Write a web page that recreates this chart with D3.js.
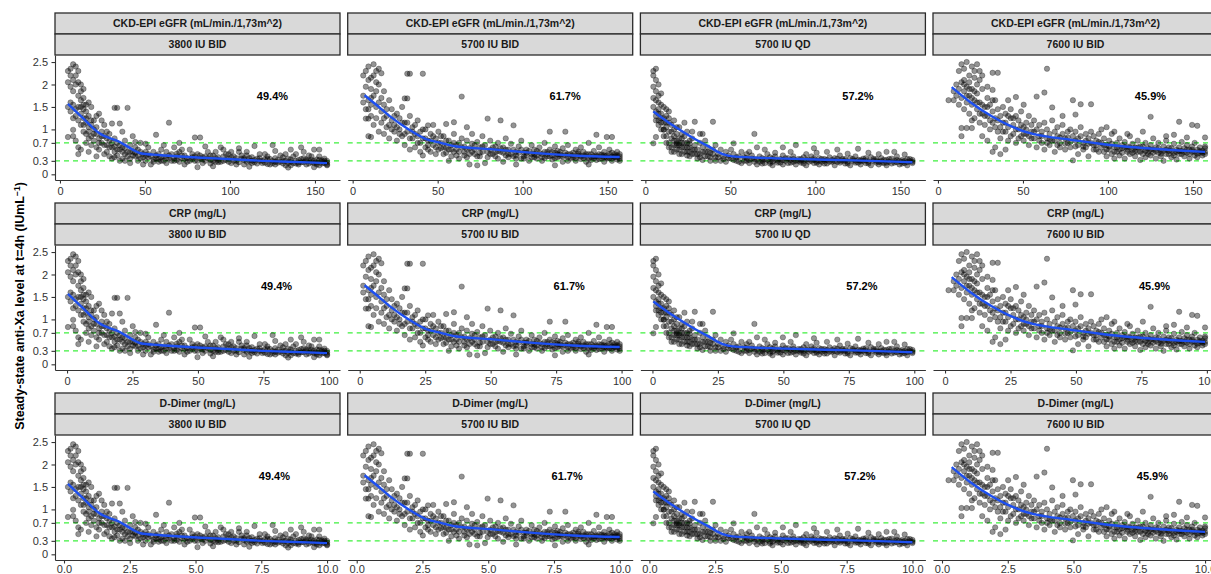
<!DOCTYPE html>
<html><head><meta charset="utf-8">
<script src="https://cdn.jsdelivr.net/npm/d3@7"></script>
<style>
html,body{margin:0;padding:0;background:#fff;overflow:hidden;}
svg{display:block;font-family:"Liberation Sans",Arial,Helvetica,sans-serif;}
</style></head>
<body><div id="chart"></div>
<script>
// ---------------- DATA ----------------
const covariates = ["CKD-EPI eGFR (mL/min./1,73m^2)", "CRP (mg/L)", "D-Dimer (mg/L)"];
// observed covariate range per row (min, max)
const covRanges = [[4.7, 157.1], [0.35, 99.3], [0.15, 10.0]];
const xTickValues = [[0, 50, 100, 150], [0, 25, 50, 75, 100], [0, 2.5, 5, 7.5, 10]];
const xTickFormats = ["d", "d", ".1f"];
const regimens = ["3800 IU BID", "5700 IU BID", "5700 IU QD", "7600 IU BID"];
const pctLabels = ["49.4%", "61.7%", "57.2%", "45.9%"];
const pctLabelX = [125, 80, 8];   // per row, in covariate units
const pctLabelY = 1.75;
const yTicks = [0, 0.3, 0.7, 1, 1.5, 2, 2.5];
const targetLines = [0.3, 0.7];
const yRange = [0, 2.53];

// points: [position in covariate range (%), anti-Xa level]
const pts3800BID = [[0,2.05],[0,2.3],[1,2.2],[1,1.95],[1,2.35],[2,2.1],[2,2.45],[2,1.85],[3,2.0],[3,2.4],[3,2.2],[4,1.75],[4,2.05],[4,2.3],[5,1.85],[5,2.0],[5,1.65],[6,1.7],[6,1.55],[6,1.9],[0,1.5],[1,1.6],[1,1.4],[2,1.55],[2,1.25],[3,1.45],[3,1.3],[4,1.5],[4,1.2],[5,1.35],[5,1.1],[0,0.83],[2,0.85],[2,0.99],[3,0.75],[4,0.6],[4,0.45],[5,0.55],[6,0.95],[6,1.25],[7,1.4],[7,1.15],[7,0.9],[7,0.7],[8,1.05],[8,1.3],[8,0.8],[8,0.5],[9,1.1],[9,0.85],[9,0.65],[10,1.0],[10,0.75],[10,1.2],[11,0.9],[11,0.6],[11,0.4],[12,1.35],[12,0.8],[12,0.55],[13,0.95],[13,0.7],[14,1.1],[14,0.85],[14,0.45],[15,0.65],[15,0.5],[16,0.9],[16,0.75],[17,1.13],[17,0.6],[17,0.35],[18,1.48],[18,0.8],[18,0.5],[19,1.48],[19,0.7],[20,1.13],[20,0.55],[20,0.3],[21,0.95],[21,0.6],[22,0.45],[22,0.75],[23,1.48],[23,0.5],[24,0.65],[24,0.35],[25,0.85],[25,0.5],[26,0.4],[26,0.6],[27,0.55],[28,0.7],[28,0.35],[29,0.45],[30,0.5],[30,0.3],[31,0.6],[32,0.4],[33,0.5],[34,0.88],[34,0.35],[35,0.45],[36,0.55],[36,0.3],[37,0.4],[38,0.5],[39,1.15],[39,0.35],[40,0.45],[41,0.6],[41,0.3],[42,0.4],[43,0.5],[44,0.35],[45,0.42],[46,0.28],[47,0.55],[48,0.38],[49,0.82],[49,0.3],[50,0.45],[51,0.82],[51,0.35],[52,0.25],[53,0.4],[54,0.5],[55,0.32],[56,0.42],[57,0.28],[58,0.38],[59,0.6],[60,0.3],[61,0.45],[62,0.35],[63,0.25],[64,0.4],[65,0.3],[66,0.5],[67,0.35],[68,0.22],[69,0.42],[70,0.3],[71,0.38],[72,0.63],[72,0.27],[73,0.35],[74,0.45],[75,0.25],[76,0.33],[77,0.4],[78,0.22],[79,0.65],[79,0.3],[80,0.36],[81,0.26],[82,0.42],[83,0.3],[84,0.2],[85,0.35],[86,0.28],[87,0.4],[88,0.24],[89,0.32],[90,0.6],[90,0.27],[91,0.36],[92,0.22],[93,0.3],[94,0.4],[95,0.55],[95,0.25],[96,0.33],[97,0.55],[97,0.2],[98,0.28],[99,0.35],[100,0.22],[100,0.3],[32,0.22],[35,0.28],[38,0.25],[42,0.32],[45,0.22],[48,0.45],[52,0.33],[55,0.42],[58,0.27],[62,0.45],[65,0.22],[68,0.32],[71,0.25],[74,0.3],[77,0.23],[80,0.28],[83,0.38],[86,0.2],[89,0.26],[92,0.33],[94,0.27],[96,0.22],[98,0.31],[99,0.25],[44,0.55],[57,0.5],[63,0.5],[69,0.5],[76,0.45],[84,0.45],[88,0.45],[93,0.42],[97,0.4],[24,0.25],[27,0.3],[29,0.22],[31,0.45],[33,0.28],[26,0.72],[30,0.68],[37,0.65],[43,0.7],[53,0.62],[60,0.55],[66,0.58],[80,0.52],[86,0.55],[91,0.5],[50,0.16],[56,0.18],[70,0.17],[85,0.15],[95,0.16],
[31,0.38],[33,0.33],[34,0.42],[36,0.38],[37,0.3],[39,0.42],[40,0.3],[41,0.36],[43,0.28],[44,0.42],[46,0.36],[47,0.3],[49,0.4],[50,0.3],[51,0.42],[53,0.3],[54,0.36],[55,0.24],[57,0.36],[58,0.32],[59,0.28],[61,0.32],[62,0.28],[63,0.38],[64,0.3],[66,0.27],[67,0.42],[68,0.36],[69,0.28],[70,0.36],[72,0.32],[73,0.24],[74,0.36],[75,0.3],[76,0.26],[78,0.34],[79,0.25],[80,0.22],[81,0.32],[82,0.28],[83,0.24],[84,0.3],[85,0.26],[86,0.33],[87,0.25],[88,0.3],[89,0.22],[90,0.34],[91,0.27],[92,0.3],[93,0.24],[94,0.32],[95,0.3],[96,0.26],[97,0.32],[98,0.24],[99,0.3],[100,0.26],[100,0.2],[60,0.4],[65,0.36],[71,0.3],[77,0.34],[45,0.34],[52,0.38],[56,0.3],[48,0.34],[42,0.46],[38,0.36],[35,0.34],
[6,1.1],[7,1.25],[8,0.95],[9,1.2],[10,0.9],[11,1.05],[12,0.7],[13,0.85],[14,0.65],[15,0.8],[16,0.6],[17,0.7],[18,0.62],[19,0.55],[20,0.65],[21,0.5],[22,0.58],[23,0.4],[24,0.5],[25,0.42],[26,0.48],[27,0.42],[28,0.5],[29,0.38],[30,0.42],[15,0.95],[13,1.2],[11,1.3],[9,1.5],[8,1.6],[7,1.55],[6,1.45],[5,1.5],[16,0.4],[18,0.38],[21,0.35],[19,0.42],[22,0.3]];

const pts5700BID = [[1,2.2],[2,2.3],[3,2.4],[4,2.15],[5,2.45],[6,2.3],[7,2.0],[8,2.25],[2,1.95],[4,1.9],[6,2.05],[9,1.85],[3,2.1],[5,2.2],[7,2.35],[18,2.24],[19,2.24],[24,2.24],[17,1.69],[18,1.69],[39,1.73],[2,1.24],[3,1.24],[3,0.85],[4,0.83],[26,1.09],[33,1.12],[36,1.16],[49,1.24],[54,1.2],[41,1.05],[59,1.09],[73,0.95],[79,0.95],[91,0.88],[95,0.83],[97,0.83],[1,1.6],[1,1.75],[2,1.45],[3,1.65],[4,1.55],[4,1.3],[5,1.75],[5,1.1],[6,1.5],[6,1.25],[7,1.6],[7,0.95],[8,1.4],[8,1.15],[9,1.55],[9,0.9],[10,1.3],[10,1.05],[11,1.65],[11,0.8],[12,1.2],[12,1.45],[13,0.95],[13,1.1],[14,1.35],[14,0.75],[15,1.0],[15,1.25],[16,0.85],[16,1.5],[17,0.65],[17,1.15],[18,0.95],[19,0.55],[19,1.3],[20,0.8],[20,1.05],[21,0.6],[21,0.9],[22,1.2],[22,0.7],[23,0.5],[23,0.95],[24,0.8],[25,0.6],[25,1.0],[26,0.75],[27,0.5],[27,0.9],[28,0.65],[28,1.1],[29,0.8],[30,0.55],[30,0.95],[31,0.7],[32,0.45],[32,0.85],[33,0.6],[34,0.75],[35,0.4],[35,0.65],[36,0.9],[37,0.55],[38,0.7],[38,0.35],[39,0.8],[40,0.5],[40,0.62],[41,0.75],[42,0.45],[43,0.68],[43,0.9],[44,0.55],[45,0.4],[45,0.72],[46,0.6],[47,0.5],[47,0.85],[48,0.65],[49,0.38],[50,0.55],[50,0.75],[51,0.45],[52,0.62],[53,0.7],[53,0.35],[54,0.5],[55,0.6],[56,0.42],[56,0.8],[57,0.55],[58,0.68],[59,0.4],[60,0.5],[34,0.3],[42,0.22],[48,0.25],[55,0.28],[61,0.62],[62,0.35],[62,0.75],[63,0.48],[64,0.55],[65,0.3],[66,0.45],[66,0.65],[67,0.38],[68,0.52],[69,0.6],[70,0.3],[70,0.45],[71,0.7],[72,0.4],[73,0.55],[74,0.33],[75,0.48],[75,0.62],[76,0.38],[77,0.5],[78,0.28],[78,0.58],[79,0.42],[80,0.65],[81,0.35],[82,0.48],[83,0.55],[83,0.3],[84,0.42],[85,0.6],[86,0.36],[86,0.5],[87,0.28],[88,0.45],[88,0.7],[89,0.38],[90,0.52],[91,0.32],[92,0.45],[92,0.6],[93,0.35],[94,0.5],[94,0.28],[95,0.42],[96,0.36],[96,0.55],[97,0.3],[98,0.45],[98,0.38],[99,0.33],[99,0.5],[100,0.4],[100,0.3],[58,0.45],[63,0.4],[67,0.45],[71,0.36],[74,0.42],[77,0.4],[80,0.45],[82,0.38],[85,0.4],[87,0.45],[89,0.32],[91,0.42],[93,0.4],[95,0.35],[97,0.4],[99,0.42],[60,0.35],[64,0.42],[68,0.35],[72,0.5],[76,0.45],[80,0.3],[84,0.5],[90,0.4],[94,0.38],[97,0.48],[36,0.5],[39,0.6],[41,0.55],[44,0.65],[46,0.48],[52,0.5],[54,0.58],[57,0.45],[29,0.45],[31,0.58],[26,0.55],[24,0.42],[33,0.48],[37,0.42],[41,0.38],[45,0.2],[60,0.22],[75,0.2],[88,0.22],
[35,0.55],[37,0.65],[38,0.5],[40,0.42],[42,0.58],[43,0.5],[44,0.45],[46,0.4],[47,0.62],[49,0.5],[50,0.45],[51,0.6],[52,0.4],[53,0.52],[55,0.48],[56,0.55],[57,0.38],[59,0.55],[60,0.42],[61,0.48],[62,0.55],[63,0.35],[64,0.48],[65,0.52],[66,0.38],[67,0.55],[68,0.42],[69,0.48],[70,0.38],[71,0.5],[72,0.45],[73,0.4],[74,0.5],[75,0.36],[76,0.52],[77,0.44],[78,0.4],[79,0.48],[80,0.38],[81,0.45],[82,0.42],[83,0.36],[84,0.46],[85,0.34],[86,0.42],[87,0.4],[88,0.35],[89,0.45],[90,0.36],[91,0.4],[92,0.34],[93,0.44],[94,0.42],[95,0.38],[96,0.45],[97,0.35],[98,0.4],[99,0.38],[100,0.35],[100,0.45],
[10,1.45],[12,1.0],[13,1.3],[14,1.05],[15,0.9],[16,1.15],[17,0.9],[18,1.15],[19,0.8],[20,0.95],[21,1.1],[22,0.85],[23,0.7],[24,1.0],[25,0.8],[26,0.65],[27,0.75],[28,0.85],[29,0.6],[30,0.7],[31,0.85],[32,0.6],[33,0.75],[34,0.55],[36,0.7],[8,1.7],[9,1.25],[11,1.1],[6,1.85],[4,1.7],[3,1.45]];

const pts5700QD = [[0,2.3],[0,2.2],[1,2.35],[1,2.1],[0,1.95],[1,1.85],[2,2.0],[2,1.75],[1,1.65],[0,1.7],[2,1.6],[3,1.8],[3,1.55],[0,1.5],[1,1.4],[1,1.3],[2,1.45],[2,1.2],[3,1.35],[3,1.15],[4,1.5],[4,1.25],[5,1.3],[5,1.05],[6,1.4],[6,1.15],[4,1.0],[0,0.69],[1,0.83],[4,0.99],[18,0.9],[19,0.9],[23,1.17],[15,0.95],[16,1.17],[9,0.69],[10,0.69],[39,0.9],[31,0.69],[55,0.65],[71,0.55],[79,0.57],[90,0.5],[12,1.15],[14,0.75],[5,0.85],[6,0.7],[6,0.95],[7,1.1],[7,0.8],[7,0.6],[8,1.0],[8,0.75],[8,0.5],[9,0.9],[9,0.65],[10,1.05],[10,0.8],[10,0.55],[11,0.7],[11,0.9],[11,0.45],[12,0.6],[12,0.85],[13,0.7],[13,0.5],[13,0.95],[14,0.6],[14,0.4],[15,0.55],[15,0.8],[16,0.45],[16,0.65],[17,0.55],[17,0.35],[18,0.7],[18,0.45],[19,0.6],[19,0.32],[20,0.5],[20,0.75],[21,0.4],[21,0.6],[22,0.48],[22,0.3],[23,0.55],[24,0.38],[24,0.65],[25,0.45],[26,0.3],[26,0.55],[27,0.4],[28,0.5],[28,0.28],[29,0.42],[30,0.35],[30,0.55],[31,0.45],[32,0.3],[33,0.4],[34,0.5],[34,0.25],[35,0.38],[36,0.3],[36,0.45],[37,0.25],[38,0.35],[38,0.42],[39,0.28],[40,0.33],[40,0.22],[41,0.4],[42,0.3],[42,0.36],[43,0.25],[44,0.32],[44,0.45],[45,0.28],[46,0.35],[46,0.2],[47,0.4],[48,0.3],[48,0.26],[49,0.34],[50,0.22],[50,0.42],[51,0.3],[52,0.36],[52,0.25],[53,0.32],[54,0.28],[54,0.4],[55,0.22],[56,0.34],[56,0.3],[57,0.26],[58,0.38],[58,0.3],[59,0.2],[60,0.33],[60,0.28],[61,0.4],[62,0.25],[62,0.32],[63,0.3],[64,0.36],[64,0.22],[65,0.28],[66,0.34],[66,0.3],[67,0.24],[68,0.38],[68,0.28],[69,0.32],[70,0.2],[70,0.3],[71,0.35],[72,0.26],[72,0.42],[73,0.3],[74,0.24],[74,0.34],[75,0.28],[76,0.36],[76,0.2],[77,0.3],[78,0.26],[78,0.4],[79,0.32],[80,0.22],[80,0.29],[81,0.35],[82,0.25],[82,0.31],[83,0.28],[84,0.38],[84,0.2],[85,0.3],[86,0.26],[86,0.34],[87,0.22],[88,0.3],[88,0.36],[89,0.25],[90,0.32],[90,0.2],[91,0.28],[92,0.35],[92,0.24],[93,0.3],[94,0.27],[94,0.4],[95,0.22],[96,0.32],[96,0.28],[97,0.25],[98,0.34],[98,0.2],[99,0.29],[100,0.25],[100,0.32],[37,0.5],[43,0.55],[47,0.48],[53,0.5],[59,0.45],[63,0.48],[67,0.5],[75,0.46],[83,0.48],[87,0.45],[93,0.5],[97,0.44],[50,0.6],[62,0.58],[40,0.6],
[31,0.32],[32,0.38],[33,0.28],[35,0.3],[36,0.36],[37,0.32],[39,0.34],[41,0.28],[42,0.24],[43,0.34],[45,0.38],[46,0.28],[47,0.32],[49,0.26],[50,0.32],[51,0.36],[53,0.26],[54,0.34],[55,0.3],[57,0.34],[58,0.24],[59,0.32],[61,0.3],[62,0.36],[63,0.26],[65,0.34],[66,0.24],[67,0.32],[69,0.28],[70,0.36],[71,0.28],[73,0.34],[74,0.3],[75,0.24],[77,0.34],[78,0.3],[79,0.26],[81,0.3],[82,0.36],[83,0.24],[85,0.34],[86,0.3],[87,0.28],[89,0.32],[90,0.26],[91,0.34],[93,0.26],[94,0.32],[95,0.3],[97,0.3],[98,0.27],[99,0.34],[100,0.28],[45,0.24],[57,0.3],[64,0.3],[72,0.3],[80,0.32],[88,0.26],[96,0.24],
[3,1.0],[4,0.85],[5,0.7],[5,1.15],[6,0.6],[6,1.25],[7,0.95],[7,0.5],[8,0.85],[8,0.65],[9,0.75],[9,0.55],[9,1.05],[10,0.65],[10,0.45],[11,0.6],[11,0.8],[12,0.5],[12,0.7],[13,0.6],[13,0.42],[14,0.5],[14,0.68],[15,0.45],[16,0.55],[17,0.45],[18,0.38],[19,0.5],[20,0.4],[21,0.5],[22,0.38],[23,0.45],[24,0.3],[25,0.38],[27,0.34],[29,0.36],[2,1.35],[3,1.25],[4,1.15],[2,1.1],[1,1.2],[5,1.45],[8,1.2]];

const pts7600BID = [[5,2.3],[6,2.45],[7,2.35],[8,2.5],[9,2.2],[10,2.4],[11,2.15],[12,2.45],[13,2.3],[7,2.1],[9,2.05],[11,2.3],[13,2.1],[14,2.2],[3,1.65],[1,1.65],[18,2.26],[20,2.26],[39,2.35],[16,1.95],[18,1.88],[38,1.82],[27,1.72],[35,1.73],[49,1.65],[52,1.56],[56,1.56],[41,1.49],[50,1.33],[79,1.28],[90,1.17],[95,1.1],[97,1.08],[100,0.82],[6,1.03],[8,1.03],[10,1.03],[6,0.85],[3,1.85],[4,2.0],[4,1.75],[5,1.55],[5,1.9],[6,1.7],[6,2.05],[7,1.45],[7,1.85],[8,1.6],[8,1.95],[9,1.35],[9,1.75],[10,1.55],[10,1.9],[11,1.25],[11,1.65],[12,1.45],[12,1.8],[13,1.15],[13,1.6],[14,1.35],[14,1.9],[15,1.5],[15,1.1],[16,1.7],[16,1.3],[17,1.55],[17,1.0],[18,1.4],[18,1.15],[19,1.65],[19,1.25],[20,1.45],[20,0.95],[21,1.3],[21,0.8],[22,1.15],[22,1.5],[23,0.95],[23,1.35],[24,1.05],[24,0.75],[25,1.25],[25,1.45],[26,0.9],[26,1.1],[27,1.3],[27,0.7],[28,1.0],[28,1.2],[29,0.85],[29,1.4],[30,1.05],[30,0.75],[31,1.15],[31,0.9],[32,0.65],[32,1.3],[33,0.95],[33,1.1],[34,0.8],[34,1.2],[35,1.0],[35,0.6],[18,0.5],[21,0.45],[19,0.6],[23,0.55],[16,0.75],[14,0.85],[36,0.85],[36,1.1],[37,0.7],[37,0.95],[38,1.15],[38,0.55],[39,0.8],[39,1.0],[40,0.65],[40,0.9],[41,1.2],[41,0.75],[42,0.5],[42,0.95],[43,0.85],[43,1.05],[44,0.7],[44,0.6],[45,0.9],[45,1.1],[46,0.8],[46,0.55],[47,0.95],[47,0.7],[48,1.0],[48,0.6],[49,0.85],[49,0.31],[50,0.75],[50,0.95],[51,0.65],[51,0.45],[52,0.85],[52,1.05],[53,0.7],[53,0.55],[54,0.9],[54,0.6],[55,0.8],[55,0.4],[56,0.7],[56,0.95],[57,0.55],[57,0.85],[58,0.65],[58,0.75],[59,0.5],[59,0.9],[60,0.7],[60,0.6],[61,0.8],[61,0.5],[62,0.65],[62,0.4],[63,0.75],[63,0.55],[64,0.45],[64,0.9],[65,0.6],[65,0.35],[66,0.7],[66,0.5],[67,0.8],[67,0.42],[68,0.58],[68,0.65],[69,0.35],[69,0.72],[70,0.5],[70,0.62],[71,0.85],[71,0.45],[72,0.55],[72,0.68],[73,0.4],[73,0.6],[74,0.75],[74,0.5],[75,0.32],[75,0.62],[76,0.55],[76,0.45],[77,0.7],[77,0.38],[78,0.58],[78,0.5],[79,0.65],[79,0.42],[80,0.8],[80,0.55],[81,0.35],[81,0.6],[82,0.48],[82,0.7],[83,0.52],[83,0.4],[84,0.62],[84,0.3],[85,0.55],[85,0.75],[86,0.45],[86,0.6],[87,0.38],[87,0.52],[88,0.68],[88,0.48],[89,0.55],[89,0.33],[90,0.6],[90,0.45],[91,0.52],[91,0.72],[92,0.4],[92,0.58],[93,0.65],[93,0.48],[94,0.35],[94,0.55],[95,0.5],[95,0.62],[96,0.42],[96,0.7],[97,0.55],[97,0.38],[98,0.6],[98,0.48],[99,0.52],[99,0.42],[100,0.58],[100,0.45],[100,0.62],[70,0.9],[85,0.85],[76,0.95],[88,0.88],[93,0.82],[60,1.0],[65,0.95],[45,1.3],[62,1.05],[30,1.55],[24,1.65],
[30,0.9],[31,1.0],[32,0.85],[33,0.8],[34,0.95],[36,0.75],[37,0.85],[39,0.7],[40,0.78],[42,0.75],[43,0.65],[44,0.82],[46,0.68],[47,0.82],[48,0.72],[50,0.62],[51,0.8],[53,0.62],[54,0.75],[55,0.68],[57,0.65],[58,0.55],[59,0.72],[61,0.65],[62,0.55],[63,0.62],[64,0.68],[65,0.5],[66,0.6],[67,0.55],[68,0.48],[69,0.6],[70,0.55],[71,0.6],[72,0.48],[73,0.52],[74,0.6],[75,0.5],[76,0.62],[77,0.52],[78,0.45],[79,0.55],[80,0.48],[81,0.52],[82,0.58],[83,0.46],[84,0.52],[85,0.45],[86,0.52],[87,0.58],[88,0.42],[89,0.5],[90,0.52],[91,0.45],[92,0.5],[93,0.55],[94,0.45],[95,0.55],[96,0.5],[97,0.46],[98,0.52],[99,0.48],[100,0.5],
[10,1.2],[12,1.6],[13,1.35],[14,1.55],[15,1.3],[16,1.5],[17,1.2],[18,1.65],[19,1.05],[20,1.2],[21,1.05],[22,0.95],[23,1.15],[24,1.3],[25,0.85],[26,1.25],[27,1.0],[28,0.8],[29,1.1],[7,2.0],[8,1.75],[9,1.9],[11,1.85],[12,2.0],[10,1.7]];

// smoother (blue line): [position in covariate range (%), anti-Xa level]
const fit3800BID = [[0,1.57],[6,1.24],[12,0.92],[20,0.72],[25,0.55],[28,0.47],[35,0.43],[45,0.39],[55,0.36],[65,0.33],[75,0.3],[85,0.28],[100,0.25]];
const fit5700BID = [[1.5,1.76],[6,1.55],[11.6,1.28],[18,1.02],[25,0.79],[31,0.7],[37,0.62],[50,0.56],[62,0.5],[82,0.42],[100,0.385]];
const fit5700QD  = [[0,1.4],[7.5,1.09],[15,0.82],[21.6,0.61],[26.8,0.45],[30.6,0.4],[51,0.35],[77,0.31],[100,0.27]];
const fit7600BID = [[2.2,1.94],[9.3,1.61],[18,1.28],[24,1.1],[31,0.94],[38,0.85],[48,0.77],[57,0.7],[67,0.63],[80,0.57],[90,0.53],[100,0.5]];

const pointSets = [pts3800BID, pts5700BID, pts5700QD, pts7600BID];
const fitSets = [fit3800BID, fit5700BID, fit5700QD, fit7600BID];

// ---------------- LAYOUT ----------------
const W = 1211, H = 574;
const colLeft = [55, 347.7, 640.4, 933];
const rowTop = [13, 203, 393];
const panelW = 285, stripH = 21, panelH = 125;

const svg = d3.select("#chart").append("svg").attr("width", W).attr("height", H);

function expand(r){ const d = (r[1]-r[0])*0.05; return [r[0]-d, r[1]+d]; }
const y = d3.scaleLinear().domain(expand(yRange)).range([2*stripH + panelH, 2*stripH]);

covariates.forEach((cov, r) => {
  const cr = covRanges[r];
  const x = d3.scaleLinear().domain(expand(cr)).range([0, panelW]);
  const toCov = p => cr[0] + p/100*(cr[1]-cr[0]);
  regimens.forEach((reg, c) => {
    const g = svg.append("g").attr("transform", `translate(${colLeft[c]},${rowTop[r]})`);
    // strips
    [cov, reg].forEach((lab, k) => {
      g.append("rect").attr("x", 0).attr("y", k*stripH).attr("width", panelW).attr("height", stripH)
        .attr("fill", "#d9d9d9").attr("stroke", "#2b2b2b").attr("stroke-width", 1.3);
      g.append("text").attr("x", panelW/2).attr("y", k*stripH + stripH/2).attr("dy", "0.35em")
        .attr("text-anchor", "middle").attr("font-size", 10.5).attr("font-weight", "bold")
        .attr("fill", "#1a1a1a").text(lab);
    });
    const pg = g.append("g");
    // target lines
    targetLines.forEach(v => {
      pg.append("line").attr("x1", 0).attr("x2", panelW).attr("y1", y(v)).attr("y2", y(v))
        .attr("stroke", "#3ef03e").attr("stroke-width", 1.1).attr("stroke-dasharray", "5,4");
    });
    // points
    pg.selectAll("circle").data(pointSets[c]).join("circle")
      .attr("cx", d => x(toCov(d[0]))).attr("cy", d => y(d[1])).attr("r", 2.7)
      .attr("fill", "#000").attr("fill-opacity", 0.42)
      .attr("stroke", "#000").attr("stroke-opacity", 0.45).attr("stroke-width", 0.6);
    // smoother
    const line = d3.line().x(d => x(toCov(d[0]))).y(d => y(d[1])).curve(d3.curveMonotoneX);
    pg.append("path").attr("d", line(fitSets[c])).attr("fill", "none")
      .attr("stroke", "#1d4ff0").attr("stroke-width", 2.4);
    // percent label
    pg.append("text").attr("x", x(pctLabelX[r])).attr("y", y(pctLabelY)).attr("dy", "0.35em")
      .attr("text-anchor", "middle").attr("font-size", 11).attr("font-weight", "bold")
      .attr("fill", "#000").text(pctLabels[c]);
    // x axis
    const xa = g.append("g").attr("transform", `translate(0,${2*stripH + panelH})`)
      .call(d3.axisBottom(x).tickValues(xTickValues[r]).tickFormat(d3.format(xTickFormats[r]))
        .tickSize(3.5).tickSizeOuter(0).tickPadding(r === 2 ? 2 : 3.5));
    xa.select(".domain").attr("stroke", "#333").attr("stroke-width", 1.1);
    xa.selectAll(".tick line").attr("stroke", "#333").attr("stroke-width", 1.1);
    xa.selectAll("text").attr("font-size", 11).attr("fill", "#333").attr("font-family", "Liberation Sans, Arial, sans-serif");
    // y axis on first column
    if (c === 0) {
      const ya = g.append("g").call(d3.axisLeft(y).tickValues(yTicks).tickFormat(d => String(d))
        .tickSize(3.5).tickSizeOuter(0).tickPadding(3.5));
      ya.select(".domain").attr("stroke", "#333").attr("stroke-width", 1.1);
      ya.selectAll(".tick line").attr("stroke", "#333").attr("stroke-width", 1.1);
      ya.selectAll("text").attr("font-size", 11).attr("fill", "#333").attr("font-family", "Liberation Sans, Arial, sans-serif");
    }
  });
});

// y axis title
const yt = svg.append("text").attr("transform", "translate(24,306) rotate(-90)")
  .attr("text-anchor", "middle").attr("font-size", 12.5).attr("font-weight", "bold").attr("fill", "#000");
yt.append("tspan").text("Steady-state anti-Xa level at t=4h (IUmL");
yt.append("tspan").attr("font-size", 8.5).attr("dy", "-0.5em").text("−1");
yt.append("tspan").attr("dy", "0.35em").text(")");
</script></body></html>
